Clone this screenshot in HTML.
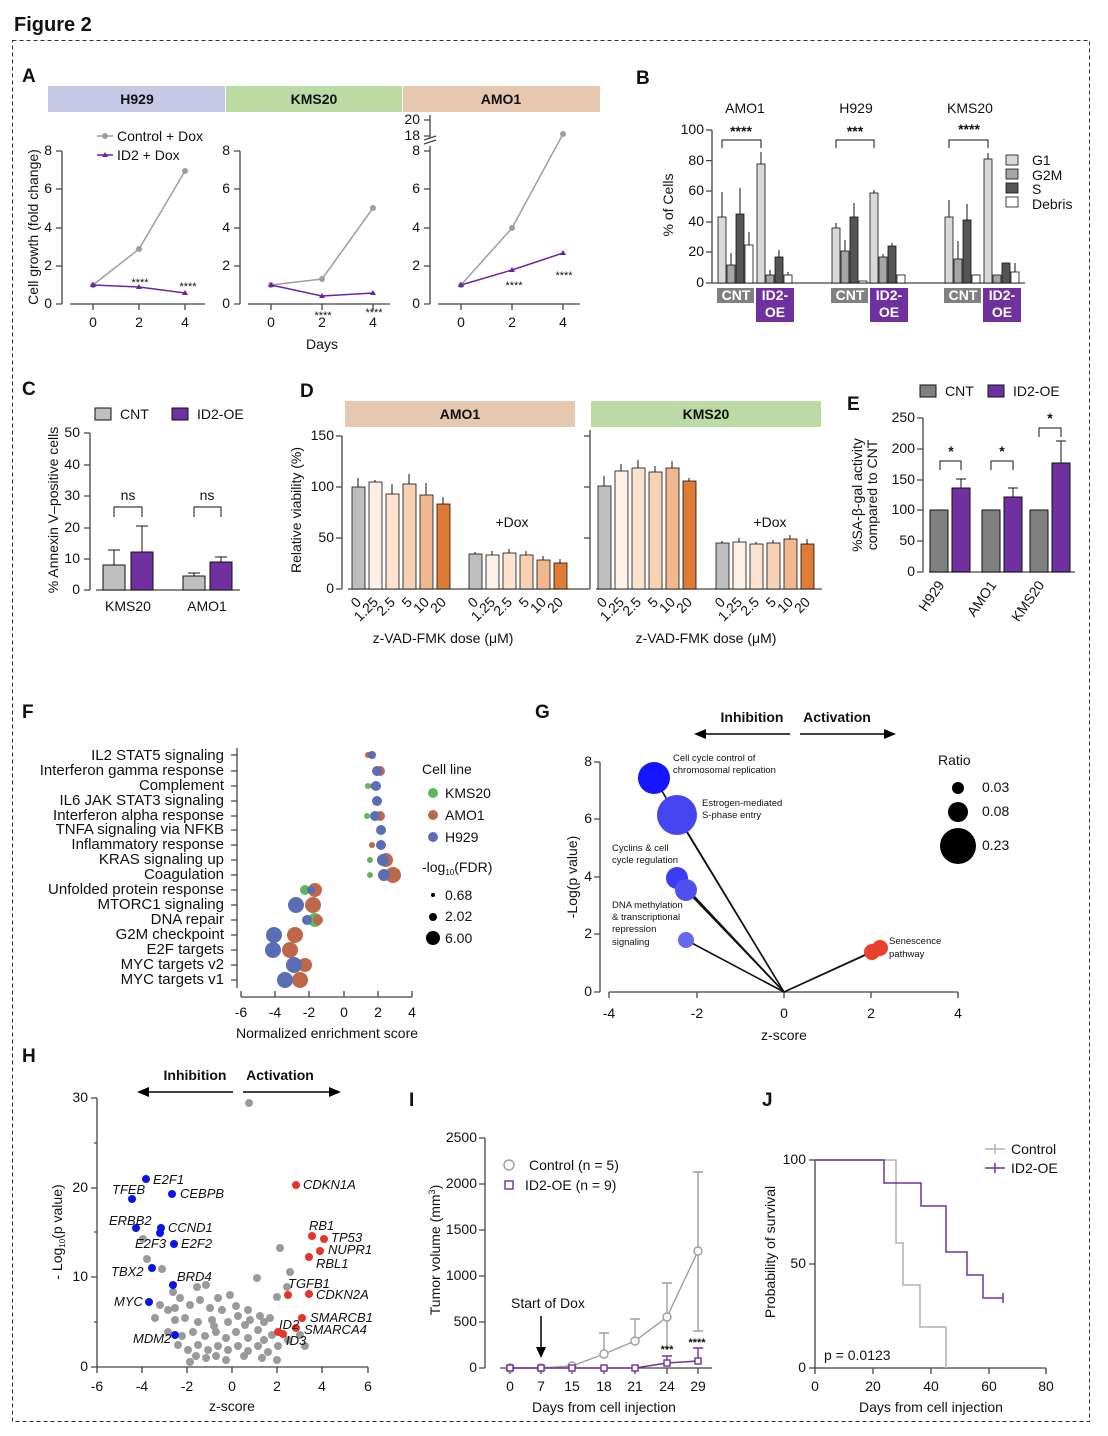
<!DOCTYPE html>
<html><head><meta charset="utf-8"><style>
html,body{margin:0;padding:0;background:#fff}
svg{display:block;font-family:"Liberation Sans",Arial,sans-serif}
text{fill:#111}
.t{font-size:14px}
.f{font-size:15px}
.s{font-size:11px}
.L{font-size:19px;font-weight:bold}
.ax{stroke:#444;stroke-width:1.3;fill:none}
.k{stroke:#111;stroke-width:1;fill:none}
.it{font-size:13px;font-style:italic}
</style></head><body>
<svg width="1108" height="1436" viewBox="0 0 1108 1436">
<text x="14" y="31" style="font-size:20px;font-weight:bold">Figure 2</text>
<rect x="12.5" y="40.5" width="1077" height="1381" fill="none" stroke="#333" stroke-dasharray="4,3"/>

<!-- A -->
<text x="22" y="82" class="L">A</text>
<rect x="48" y="86" width="177" height="26" fill="#c7c8e6"/>
<rect x="226" y="86" width="176" height="26" fill="#bcdaa3"/>
<rect x="403" y="86" width="197" height="26" fill="#e6c7af"/>
<g class="t" font-weight="bold" text-anchor="middle"><text x="137" y="104">H929</text><text x="314" y="104">KMS20</text><text x="501" y="104">AMO1</text></g>
<text transform="translate(38,227) rotate(-90)" class="t" text-anchor="middle">Cell growth (fold change)</text>
<g class="ax"><path d="M62,151V304M56,151H62M56,189H62M56,228H62M56,266H62M56,304H62"/><path d="M70,304H205M93,304v6M139,304v6M185,304v6"/>
<path d="M240,151V304M234,151H240M234,189H240M234,228H240M234,266H240M234,304H240"/><path d="M248,304H390M271,304v6M322,304v6M373,304v6"/>
<path d="M430,146V304M424,151H430M424,189H430M424,228H430M424,266H430M424,304H430"/><path d="M430,115V138M424,120H430M424,136H430"/><path d="M424,144l12,-4M424,140l12,-4"/>
<path d="M438,304H580M461,304v6M512,304v6M563,304v6"/></g>
<g class="t" text-anchor="end"><text x="52" y="155">8</text><text x="52" y="193">6</text><text x="52" y="232">4</text><text x="52" y="270">2</text><text x="52" y="308">0</text>
<text x="230" y="155">8</text><text x="230" y="193">6</text><text x="230" y="232">4</text><text x="230" y="270">2</text><text x="230" y="308">0</text>
<text x="420" y="155">8</text><text x="420" y="193">6</text><text x="420" y="232">4</text><text x="420" y="270">2</text><text x="420" y="308">0</text><text x="420" y="124">20</text><text x="420" y="140">18</text></g>
<g class="t" text-anchor="middle"><text x="93" y="327">0</text><text x="139" y="327">2</text><text x="185" y="327">4</text><text x="271" y="327">0</text><text x="322" y="327">2</text><text x="373" y="327">4</text><text x="461" y="327">0</text><text x="512" y="327">2</text><text x="563" y="327">4</text><text x="322" y="349">Days</text></g>
<g stroke="#9e9e9e" stroke-width="1.5" fill="none"><path d="M93,285L139,249L185,171"/><path d="M271,285L322,279L373,208"/><path d="M461,285L512,228L563,134"/><path d="M97,136H113"/></g>
<g fill="#9e9e9e"><circle cx="93" cy="285" r="3"/><circle cx="139" cy="249" r="3"/><circle cx="185" cy="171" r="3"/><circle cx="271" cy="285" r="3"/><circle cx="322" cy="279" r="3"/><circle cx="373" cy="208" r="3"/><circle cx="461" cy="285" r="3"/><circle cx="512" cy="228" r="3"/><circle cx="563" cy="134" r="3"/><circle cx="105" cy="136" r="3"/></g>
<g stroke="#6b22a8" stroke-width="1.5" fill="none"><path d="M93,285L139,287L185,293"/><path d="M271,285L322,296L373,293"/><path d="M461,285L512,270L563,253"/><path d="M97,155H113"/></g>
<g fill="#6b22a8"><path d="M93,282l3,5h-6z M139,284l3,5h-6z M185,290l3,5h-6z M271,282l3,5h-6z M322,293l3,5h-6z M373,290l3,5h-6z M461,282l3,5h-6z M512,267l3,5h-6z M563,250l3,5h-6z M105,152l3,5h-6z"/></g>
<text x="117" y="141" class="t">Control + Dox</text><text x="117" y="160" class="t">ID2 + Dox</text>
<g class="s" text-anchor="middle"><text x="140" y="286">****</text><text x="188" y="290">****</text><text x="323" y="319">****</text><text x="374" y="316">****</text><text x="514" y="289">****</text><text x="564" y="279">****</text></g>

<!-- B -->
<text x="636" y="84" class="L">B</text>
<g class="t" text-anchor="middle"><text x="745" y="113">AMO1</text><text x="856" y="113">H929</text><text x="970" y="113">KMS20</text></g>
<text transform="translate(673,205) rotate(-90)" class="t" text-anchor="middle">% of Cells</text>
<g class="ax"><path d="M712,130V283M706,130H712M706,160.6H712M706,191H712M706,222H712M706,252H712M706,283H712M712,283H1025"/></g>
<g class="t" text-anchor="end"><text x="704" y="134">100</text><text x="704" y="165">80</text><text x="704" y="195">60</text><text x="704" y="226">40</text><text x="704" y="256">20</text><text x="704" y="287">0</text></g>
<g stroke="#111" stroke-width="0.8">
<rect x="718" y="217" width="8" height="66" fill="#d9d9d9"/><rect x="727" y="265" width="8" height="18" fill="#a6a6a6"/><rect x="736" y="214" width="8" height="69" fill="#555"/><rect x="745" y="245" width="8" height="38" fill="#fff"/>
<rect x="757" y="164" width="8" height="119" fill="#d9d9d9"/><rect x="766" y="275" width="8" height="8" fill="#a6a6a6"/><rect x="775" y="257" width="8" height="26" fill="#555"/><rect x="784" y="275" width="8" height="8" fill="#fff"/>
<rect x="832" y="228" width="8" height="55" fill="#d9d9d9"/><rect x="841" y="251" width="8" height="32" fill="#a6a6a6"/><rect x="850" y="217" width="8" height="66" fill="#555"/><rect x="859" y="281" width="8" height="2" fill="#fff"/>
<rect x="870" y="193" width="8" height="90" fill="#d9d9d9"/><rect x="879" y="257" width="8" height="26" fill="#a6a6a6"/><rect x="888" y="246" width="8" height="37" fill="#555"/><rect x="897" y="275" width="8" height="8" fill="#fff"/>
<rect x="945" y="217" width="8" height="66" fill="#d9d9d9"/><rect x="954" y="259" width="8" height="24" fill="#a6a6a6"/><rect x="963" y="220" width="8" height="63" fill="#555"/><rect x="972" y="275" width="8" height="8" fill="#fff"/>
<rect x="984" y="159" width="8" height="124" fill="#d9d9d9"/><rect x="993" y="275" width="8" height="8" fill="#a6a6a6"/><rect x="1002" y="263" width="8" height="20" fill="#555"/><rect x="1011" y="272" width="8" height="11" fill="#fff"/>
</g>
<g class="k"><path d="M722,217V192M731,265V253M740,214V188M749,245V232M761,164V152M770,275V270M779,257V250M788,275V272M836,228V223M845,251V240M854,217V203M874,193V190M883,257V254M892,246V243M949,217V200M958,259V241M967,220V204M988,159V153M1015,272V263"/>
<path d="M722,148V140H761V148M836,148V140H874V148M949,148V140H988V148"/></g>
<g class="t" font-weight="bold" text-anchor="middle"><text x="741" y="136">****</text><text x="855" y="136">***</text><text x="969" y="134">****</text></g>
<rect x="717" y="288" width="37" height="15" fill="#808080"/><rect x="756" y="288" width="38" height="34" fill="#7030a0"/>
<rect x="831" y="288" width="37" height="15" fill="#808080"/><rect x="870" y="288" width="38" height="34" fill="#7030a0"/>
<rect x="944" y="288" width="37" height="15" fill="#808080"/><rect x="983" y="288" width="38" height="34" fill="#7030a0"/>
<g class="t" font-weight="bold" text-anchor="middle"><text x="736" y="300" style="fill:#fff">CNT</text><text x="775" y="300" style="fill:#fff">ID2-</text><text x="775" y="317" style="fill:#fff">OE</text>
<text x="850" y="300" style="fill:#fff">CNT</text><text x="889" y="300" style="fill:#fff">ID2-</text><text x="889" y="317" style="fill:#fff">OE</text>
<text x="963" y="300" style="fill:#fff">CNT</text><text x="1002" y="300" style="fill:#fff">ID2-</text><text x="1002" y="317" style="fill:#fff">OE</text></g>
<g stroke="#111" stroke-width="0.8"><rect x="1006" y="155" width="12" height="10" fill="#d9d9d9"/><rect x="1006" y="169" width="12" height="10" fill="#a6a6a6"/><rect x="1006" y="183" width="12" height="10" fill="#555"/><rect x="1006" y="197" width="12" height="10" fill="#fff"/></g>
<g class="t"><text x="1032" y="165">G1</text><text x="1032" y="180">G2M</text><text x="1032" y="194">S</text><text x="1032" y="209">Debris</text></g>

<!-- C -->
<text x="22" y="395" class="L">C</text>
<rect x="95" y="408" width="16" height="12" fill="#bfbfbf" stroke="#111"/><text x="120" y="419" class="t">CNT</text>
<rect x="172" y="408" width="16" height="12" fill="#7030a0" stroke="#111"/><text x="197" y="419" class="t">ID2-OE</text>
<text transform="translate(58,510) rotate(-90)" class="t" text-anchor="middle">% Annexin V–positive cells</text>
<g class="ax"><path d="M90,433V590M84,433H90M84,465H90M84,496H90M84,528H90M84,559H90M84,590H90M96,590H240"/></g>
<g class="t" text-anchor="end"><text x="80" y="437">50</text><text x="80" y="469">40</text><text x="80" y="500">30</text><text x="80" y="532">20</text><text x="80" y="563">10</text><text x="80" y="594">0</text></g>
<g stroke="#111"><rect x="103" y="565" width="22" height="25" fill="#bfbfbf"/><rect x="131" y="552" width="22" height="38" fill="#7030a0"/><rect x="183" y="576" width="22" height="14" fill="#bfbfbf"/><rect x="210" y="562" width="22" height="28" fill="#7030a0"/></g>
<g class="k"><path d="M114,565V550M108,550H120M142,552V526M136,526H148M194,576V573M188,573H200M221,562V557M215,557H227M114,517V507H142V517M194,517V507H221V517"/></g>
<g class="t" text-anchor="middle"><text x="128" y="500">ns</text><text x="207" y="500">ns</text><text x="128" y="611">KMS20</text><text x="207" y="611">AMO1</text></g>

<!-- D -->
<text x="300" y="397" class="L">D</text>
<rect x="345" y="401" width="230" height="26" fill="#e6c7af"/><rect x="591" y="401" width="230" height="26" fill="#bcdaa3"/>
<g class="t" font-weight="bold" text-anchor="middle"><text x="460" y="419">AMO1</text><text x="706" y="419">KMS20</text></g>
<text transform="translate(301,510) rotate(-90)" class="t" text-anchor="middle">Relative viability (%)</text>
<g class="ax"><path d="M342,436V589M336,436H342M336,487H342M336,538H342M336,589H342M348,589H585M590,430V589M584,436H590M584,487H590M584,538H590M584,589H590M596,589H822"/></g>
<g class="t" text-anchor="end"><text x="334" y="440">150</text><text x="334" y="491">100</text><text x="334" y="542">50</text><text x="334" y="593">0</text></g>
<g stroke="#111" stroke-width="0.8">
<rect x="352" y="487" width="13" height="102" fill="#bfbfbf"/><rect x="369" y="482" width="13" height="107" fill="#fdf1e7"/><rect x="386" y="494" width="13" height="95" fill="#fbe3d0"/><rect x="403" y="484" width="13" height="105" fill="#f7d2b4"/><rect x="420" y="495" width="13" height="94" fill="#f1b890"/><rect x="437" y="504" width="13" height="85" fill="#e07b35"/>
<rect x="469" y="554" width="13" height="35" fill="#bfbfbf"/><rect x="486" y="555" width="13" height="34" fill="#fdf1e7"/><rect x="503" y="553" width="13" height="36" fill="#fbe3d0"/><rect x="520" y="555" width="13" height="34" fill="#f7d2b4"/><rect x="537" y="560" width="13" height="29" fill="#f1b890"/><rect x="554" y="563" width="13" height="26" fill="#e07b35"/>
<rect x="598" y="486" width="13" height="103" fill="#bfbfbf"/><rect x="615" y="471" width="13" height="118" fill="#fdf1e7"/><rect x="632" y="468" width="13" height="121" fill="#fbe3d0"/><rect x="649" y="472" width="13" height="117" fill="#f7d2b4"/><rect x="666" y="468" width="13" height="121" fill="#f1b890"/><rect x="683" y="481" width="13" height="108" fill="#e07b35"/>
<rect x="716" y="543" width="13" height="46" fill="#bfbfbf"/><rect x="733" y="542" width="13" height="47" fill="#fdf1e7"/><rect x="750" y="544" width="13" height="45" fill="#fbe3d0"/><rect x="767" y="543" width="13" height="46" fill="#f7d2b4"/><rect x="784" y="539" width="13" height="50" fill="#f1b890"/><rect x="801" y="544" width="13" height="45" fill="#e07b35"/>
</g>
<g class="k"><path d="M358,487V478M375,482V480M392,494V484M409,484V474M426,495V483M443,504V497M475,554V552M492,555V551M509,553V549M526,555V551M543,560V556M560,563V559M604,486V476M621,471V464M638,468V460M655,472V466M672,468V461M689,481V478M722,543V541M739,542V538M756,544V542M773,543V540M790,539V535M807,544V539"/></g>
<text x="512" y="527" class="t" text-anchor="middle">+Dox</text><text x="770" y="527" class="t" text-anchor="middle">+Dox</text>
<g class="t" text-anchor="end">
<text transform="translate(362,603) rotate(-45)">0</text><text transform="translate(379,603) rotate(-45)">1.25</text><text transform="translate(396,603) rotate(-45)">2.5</text><text transform="translate(413,603) rotate(-45)">5</text><text transform="translate(430,603) rotate(-45)">10</text><text transform="translate(447,603) rotate(-45)">20</text>
<text transform="translate(479,603) rotate(-45)">0</text><text transform="translate(496,603) rotate(-45)">1.25</text><text transform="translate(513,603) rotate(-45)">2.5</text><text transform="translate(530,603) rotate(-45)">5</text><text transform="translate(547,603) rotate(-45)">10</text><text transform="translate(564,603) rotate(-45)">20</text>
<text transform="translate(608,603) rotate(-45)">0</text><text transform="translate(625,603) rotate(-45)">1.25</text><text transform="translate(642,603) rotate(-45)">2.5</text><text transform="translate(659,603) rotate(-45)">5</text><text transform="translate(676,603) rotate(-45)">10</text><text transform="translate(693,603) rotate(-45)">20</text>
<text transform="translate(726,603) rotate(-45)">0</text><text transform="translate(743,603) rotate(-45)">1.25</text><text transform="translate(760,603) rotate(-45)">2.5</text><text transform="translate(777,603) rotate(-45)">5</text><text transform="translate(794,603) rotate(-45)">10</text><text transform="translate(811,603) rotate(-45)">20</text></g>
<g class="t" text-anchor="middle"><text x="443" y="643">z-VAD-FMK dose (μM)</text><text x="706" y="643">z-VAD-FMK dose (μM)</text></g>

<!-- E -->
<text x="847" y="410" class="L">E</text>
<rect x="920" y="385" width="16" height="12" fill="#808080" stroke="#111"/><text x="945" y="396" class="t">CNT</text>
<rect x="988" y="385" width="16" height="12" fill="#7030a0" stroke="#111"/><text x="1013" y="396" class="t">ID2-OE</text>
<text transform="translate(862,495) rotate(-90)" class="t" text-anchor="middle">%SA-β-gal activity</text>
<text transform="translate(877,495) rotate(-90)" class="t" text-anchor="middle">compared to CNT</text>
<g class="ax"><path d="M923,418V572M917,418H923M917,449H923M917,480H923M917,510H923M917,541H923M917,572H923M929,572H1075"/></g>
<g class="t" text-anchor="end"><text x="915" y="422">250</text><text x="915" y="453">200</text><text x="915" y="484">150</text><text x="915" y="514">100</text><text x="915" y="545">50</text><text x="915" y="576">0</text></g>
<g stroke="#111"><rect x="930" y="510" width="18" height="62" fill="#808080"/><rect x="952" y="488" width="18" height="84" fill="#7030a0"/><rect x="982" y="510" width="18" height="62" fill="#808080"/><rect x="1004" y="497" width="18" height="75" fill="#7030a0"/><rect x="1030" y="510" width="18" height="62" fill="#808080"/><rect x="1052" y="463" width="18" height="109" fill="#7030a0"/></g>
<g class="k"><path d="M961,488V479M956,479H966M1013,497V488M1008,488H1018M1061,463V441M1056,441H1066M940,470V461H961V470M991,470V461H1013V470M1039,437V428H1061V437"/></g>
<g class="t" font-weight="bold" text-anchor="middle"><text x="951" y="456">*</text><text x="1002" y="456">*</text><text x="1050" y="423">*</text></g>
<g class="t" text-anchor="end"><text transform="translate(945,585) rotate(-55)">H929</text><text transform="translate(997,585) rotate(-55)">AMO1</text><text transform="translate(1045,585) rotate(-55)">KMS20</text></g>

<!-- F -->
<text x="22" y="718" class="L">F</text>
<g class="ax"><path d="M237,748V988"/><path d="M241,997H412M241,997v-6M275,997v-6M309,997v-6M344,997v-6M378,997v-6M412,997v-6"/>
<path d="M231,755H237M231,771H237M231,786H237M231,801H237M231,816H237M231,830H237M231,845H237M231,860H237M231,875H237M231,890H237M231,905H237M231,920H237M231,935H237M231,950H237M231,965H237M231,980H237"/></g>
<g class="f" text-anchor="end"><text x="224" y="760">IL2 STAT5 signaling</text><text x="224" y="775">Interferon gamma response</text><text x="224" y="790">Complement</text><text x="224" y="805">IL6 JAK STAT3 signaling</text><text x="224" y="820">Interferon alpha response</text><text x="224" y="834">TNFA signaling via NFKB</text><text x="224" y="849">Inflammatory response</text><text x="224" y="864">KRAS signaling up</text><text x="224" y="879">Coagulation</text><text x="224" y="894">Unfolded protein response</text><text x="224" y="909">MTORC1 signaling</text><text x="224" y="924">DNA repair</text><text x="224" y="939">G2M checkpoint</text><text x="224" y="954">E2F targets</text><text x="224" y="969">MYC targets v2</text><text x="224" y="984">MYC targets v1</text></g>
<g class="t" text-anchor="middle"><text x="241" y="1017">-6</text><text x="275" y="1017">-4</text><text x="309" y="1017">-2</text><text x="344" y="1017">0</text><text x="378" y="1017">2</text><text x="412" y="1017">4</text><text x="327" y="1038">Normalized enrichment score</text></g>
<g>
<circle cx="368" cy="755" r="3" fill="#c0674a"/><circle cx="372" cy="755" r="4" fill="#5a6db5"/>
<circle cx="380" cy="771" r="5" fill="#c0674a"/><circle cx="377" cy="771" r="5" fill="#5a6db5"/>
<circle cx="368" cy="786" r="3" fill="#5cb85c"/><circle cx="373" cy="786" r="3" fill="#c0674a"/><circle cx="376" cy="786" r="5" fill="#5a6db5"/>
<circle cx="377" cy="801" r="5" fill="#5a6db5"/>
<circle cx="367" cy="816" r="3" fill="#5cb85c"/><circle cx="380" cy="816" r="5" fill="#c0674a"/><circle cx="375" cy="816" r="5" fill="#5a6db5"/>
<circle cx="381" cy="830" r="5" fill="#5a6db5"/>
<circle cx="372" cy="845" r="3" fill="#c0674a"/><circle cx="381" cy="845" r="5" fill="#5a6db5"/>
<circle cx="370" cy="860" r="3" fill="#5cb85c"/><circle cx="386" cy="860" r="7" fill="#c0674a"/><circle cx="383" cy="860" r="6" fill="#5a6db5"/>
<circle cx="370" cy="875" r="3" fill="#5cb85c"/><circle cx="393" cy="875" r="8" fill="#c0674a"/><circle cx="384" cy="875" r="6" fill="#5a6db5"/>
<circle cx="305" cy="890" r="5" fill="#5cb85c"/><circle cx="315" cy="890" r="7" fill="#c0674a"/><circle cx="311" cy="890" r="4" fill="#5a6db5"/>
<circle cx="313" cy="905" r="8" fill="#c0674a"/><circle cx="296" cy="905" r="8" fill="#5a6db5"/>
<circle cx="315" cy="920" r="7" fill="#5cb85c"/><circle cx="318" cy="920" r="5" fill="#c0674a"/><circle cx="307" cy="920" r="5" fill="#5a6db5"/>
<circle cx="295" cy="935" r="8" fill="#c0674a"/><circle cx="274" cy="935" r="8" fill="#5a6db5"/>
<circle cx="290" cy="950" r="8" fill="#c0674a"/><circle cx="273" cy="950" r="8" fill="#5a6db5"/>
<circle cx="292" cy="965" r="5" fill="#5cb85c"/><circle cx="305" cy="965" r="7" fill="#c0674a"/><circle cx="294" cy="965" r="8" fill="#5a6db5"/>
<circle cx="300" cy="980" r="8" fill="#c0674a"/><circle cx="285" cy="980" r="8" fill="#5a6db5"/>
</g>
<text x="422" y="774" class="t">Cell line</text>
<circle cx="433" cy="793" r="5" fill="#5cb85c"/><circle cx="433" cy="815" r="5" fill="#c0674a"/><circle cx="433" cy="837" r="5" fill="#5a6db5"/>
<g class="t"><text x="445" y="798">KMS20</text><text x="445" y="820">AMO1</text><text x="445" y="842">H929</text><text x="422" y="872">-log<tspan font-size="8" dy="3">10</tspan><tspan dy="-3">(FDR)</tspan></text><text x="445" y="900">0.68</text><text x="445" y="921">2.02</text><text x="445" y="943">6.00</text></g>
<circle cx="433" cy="895" r="2" fill="#000"/><circle cx="433" cy="917" r="4" fill="#000"/><circle cx="433" cy="938" r="7" fill="#000"/>

<!-- G -->
<text x="535" y="718" class="L">G</text>
<g class="t" font-weight="bold" text-anchor="middle"><text x="752" y="722">Inhibition</text><text x="837" y="722">Activation</text></g>
<g stroke="#000" stroke-width="1.5"><path d="M790,734H705M800,734H885"/></g><path d="M694,734l12,-5v10z M896,734l-12,-5v10z" fill="#000"/>
<g class="ax"><path d="M600,762V992M594,762H600M594,819H600M594,877H600M594,934H600M594,992H600"/><path d="M609,992H958M609,992v6M697,992v6M784,992v6M871,992v6M958,992v6"/></g>
<g class="t" text-anchor="end"><text x="592" y="766">8</text><text x="592" y="823">6</text><text x="592" y="881">4</text><text x="592" y="938">2</text><text x="592" y="996">0</text></g>
<g class="t" text-anchor="middle"><text x="609" y="1018">-4</text><text x="697" y="1018">-2</text><text x="784" y="1018">0</text><text x="871" y="1018">2</text><text x="958" y="1018">4</text><text x="784" y="1040">z-score</text></g>
<text transform="translate(577,877) rotate(-90)" class="t" text-anchor="middle">-Log(p value)</text>
<g stroke="#111" stroke-width="1.6"><path d="M654,778L784,992M677,815L784,992M677,878L784,992M686,890L784,992M686,940L784,992M872,952L784,992M880,948L784,992"/></g>
<circle cx="654" cy="778" r="16" fill="#1515ff"/><circle cx="677" cy="815" r="20" fill="#4545f2"/><circle cx="677" cy="878" r="11" fill="#3c3cf5"/><circle cx="686" cy="890" r="11" fill="#5050ee"/><circle cx="686" cy="940" r="8" fill="#6868ee"/>
<circle cx="872" cy="952" r="8" fill="#e8412c"/><circle cx="880" cy="948" r="8" fill="#e8412c"/>
<g style="font-size:9.5px"><text x="673" y="761">Cell cycle control of</text><text x="673" y="773">chromosomal replication</text><text x="702" y="806">Estrogen-mediated</text><text x="702" y="818">S-phase entry</text><text x="612" y="851">Cyclins &amp; cell</text><text x="612" y="863">cycle regulation</text><text x="612" y="908">DNA methylation</text><text x="612" y="920">&amp; transcriptional</text><text x="612" y="932">repression</text><text x="612" y="945">signaling</text><text x="889" y="944">Senescence</text><text x="889" y="957">pathway</text></g>
<text x="938" y="765" class="t">Ratio</text>
<circle cx="958" cy="788" r="6" fill="#000"/><circle cx="958" cy="812" r="10" fill="#000"/><circle cx="958" cy="846" r="18" fill="#000"/>
<g class="t"><text x="982" y="792">0.03</text><text x="982" y="816">0.08</text><text x="982" y="850">0.23</text></g>

<!-- H -->
<text x="22" y="1062" class="L">H</text>
<g class="t" font-weight="bold" text-anchor="middle"><text x="195" y="1080">Inhibition</text><text x="280" y="1080">Activation</text></g>
<g stroke="#000" stroke-width="1.5"><path d="M233,1092H148M243,1092H330"/></g><path d="M137,1092l12,-5v10z M341,1092l-12,-5v10z" fill="#000"/>
<g class="ax"><path d="M97,1098V1367M91,1098H97M91,1188H97M91,1277H97M91,1367H97M94,1143H97M94,1232H97M94,1322H97"/><path d="M97,1367H368M97,1367v6M142,1367v6M187,1367v6M232,1367v6M277,1367v6M322,1367v6M368,1367v6"/></g>
<g class="t" text-anchor="end"><text x="88" y="1102">30</text><text x="88" y="1192">20</text><text x="88" y="1281">10</text><text x="88" y="1371">0</text></g>
<g class="t" text-anchor="middle"><text x="97" y="1391">-6</text><text x="142" y="1391">-4</text><text x="187" y="1391">-2</text><text x="232" y="1391">0</text><text x="277" y="1391">2</text><text x="322" y="1391">4</text><text x="368" y="1391">6</text><text x="232" y="1411">z-score</text></g>
<text transform="translate(62,1232) rotate(-90)" class="t" text-anchor="middle">- Log<tspan font-size="8" dy="3">10</tspan><tspan dy="-3">(p value)</tspan></text>
<g fill="#9a9a9a">
<circle cx="249" cy="1103" r="4"/><circle cx="280" cy="1248" r="4"/><circle cx="257" cy="1278" r="4"/><circle cx="290" cy="1272" r="4"/><circle cx="147" cy="1259" r="4"/><circle cx="162" cy="1269" r="4"/><circle cx="143" cy="1239" r="4"/><circle cx="287" cy="1287" r="4"/><circle cx="277" cy="1297" r="4"/><circle cx="173" cy="1292" r="4"/><circle cx="206" cy="1285" r="4"/><circle cx="197" cy="1287" r="4"/>
<circle cx="160" cy="1305" r="4"/><circle cx="168" cy="1310" r="4"/><circle cx="175" cy="1308" r="4"/><circle cx="155" cy="1318" r="4"/><circle cx="175" cy="1320" r="4"/><circle cx="190" cy="1305" r="4"/><circle cx="200" cy="1300" r="4"/><circle cx="210" cy="1308" r="4"/><circle cx="222" cy="1310" r="4"/><circle cx="236" cy="1306" r="4"/><circle cx="248" cy="1310" r="4"/><circle cx="260" cy="1316" r="4"/><circle cx="270" cy="1318" r="4"/><circle cx="185" cy="1318" r="4"/><circle cx="198" cy="1322" r="4"/><circle cx="212" cy="1320" r="4"/><circle cx="228" cy="1322" r="4"/><circle cx="245" cy="1325" r="4"/><circle cx="258" cy="1330" r="4"/><circle cx="168" cy="1332" r="4"/><circle cx="182" cy="1336" r="4"/><circle cx="193" cy="1332" r="4"/><circle cx="205" cy="1336" r="4"/><circle cx="216" cy="1332" r="4"/><circle cx="226" cy="1338" r="4"/><circle cx="236" cy="1332" r="4"/><circle cx="248" cy="1338" r="4"/><circle cx="264" cy="1340" r="4"/><circle cx="272" cy="1335" r="4"/><circle cx="178" cy="1345" r="4"/><circle cx="188" cy="1350" r="4"/><circle cx="198" cy="1345" r="4"/><circle cx="208" cy="1350" r="4"/><circle cx="218" cy="1346" r="4"/><circle cx="228" cy="1350" r="4"/><circle cx="238" cy="1346" r="4"/><circle cx="248" cy="1351" r="4"/><circle cx="258" cy="1346" r="4"/><circle cx="268" cy="1352" r="4"/><circle cx="278" cy="1346" r="4"/><circle cx="288" cy="1340" r="4"/><circle cx="196" cy="1356" r="4"/><circle cx="206" cy="1358" r="4"/><circle cx="216" cy="1356" r="4"/><circle cx="226" cy="1360" r="4"/><circle cx="244" cy="1356" r="4"/><circle cx="262" cy="1358" r="4"/><circle cx="277" cy="1360" r="4"/><circle cx="190" cy="1362" r="4"/><circle cx="300" cy="1335" r="4"/><circle cx="305" cy="1346" r="4"/><circle cx="238" cy="1316" r="4"/><circle cx="218" cy="1298" r="4"/><circle cx="230" cy="1295" r="4"/><circle cx="180" cy="1298" r="4"/><circle cx="250" cy="1320" r="4"/><circle cx="264" cy="1322" r="4"/><circle cx="214" cy="1326" r="4"/>
</g>
<g fill="#0b14e6"><circle cx="146" cy="1179" r="4"/><circle cx="132" cy="1199" r="4"/><circle cx="172" cy="1194" r="4"/><circle cx="136" cy="1228" r="4"/><circle cx="161" cy="1228" r="4"/><circle cx="160" cy="1233" r="4"/><circle cx="174" cy="1244" r="4"/><circle cx="152" cy="1268" r="4"/><circle cx="173" cy="1285" r="4"/><circle cx="149" cy="1302" r="4"/><circle cx="175" cy="1335" r="4"/></g>
<g fill="#e8322a"><circle cx="296" cy="1185" r="4"/><circle cx="312" cy="1236" r="4"/><circle cx="324" cy="1239" r="4"/><circle cx="320" cy="1251" r="4"/><circle cx="309" cy="1257" r="4"/><circle cx="288" cy="1295" r="4"/><circle cx="309" cy="1294" r="4"/><circle cx="302" cy="1318" r="4"/><circle cx="296" cy="1328" r="4"/><circle cx="278" cy="1332" r="4"/><circle cx="283" cy="1334" r="4"/></g>
<g class="it"><text x="153" y="1184">E2F1</text><text x="112" y="1194">TFEB</text><text x="180" y="1198">CEBPB</text><text x="109" y="1225">ERBB2</text><text x="168" y="1232">CCND1</text><text x="135" y="1248">E2F3</text><text x="181" y="1248">E2F2</text><text x="111" y="1276">TBX2</text><text x="177" y="1281">BRD4</text><text x="114" y="1306">MYC</text><text x="133" y="1343">MDM2</text>
<text x="303" y="1189">CDKN1A</text><text x="309" y="1230">RB1</text><text x="331" y="1242">TP53</text><text x="328" y="1254">NUPR1</text><text x="316" y="1268">RBL1</text><text x="288" y="1288">TGFB1</text><text x="316" y="1299">CDKN2A</text><text x="310" y="1322">SMARCB1</text><text x="304" y="1334">SMARCA4</text><text x="279" y="1329">ID2</text><text x="286" y="1345">ID3</text></g>

<!-- I -->
<text x="409" y="1106" class="L">I</text>
<g class="ax"><path d="M485,1138V1368M479,1138H485M479,1184H485M479,1230H485M479,1276H485M479,1322H485M479,1368H485"/><path d="M500,1368H712M510,1368v6M541,1368v6M572,1368v6M604,1368v6M635,1368v6M667,1368v6M698,1368v6"/></g>
<g class="t" text-anchor="end"><text x="477" y="1142">2500</text><text x="477" y="1188">2000</text><text x="477" y="1234">1500</text><text x="477" y="1280">1000</text><text x="477" y="1326">500</text><text x="477" y="1372">0</text></g>
<g class="t" text-anchor="middle"><text x="510" y="1391">0</text><text x="541" y="1391">7</text><text x="572" y="1391">15</text><text x="604" y="1391">18</text><text x="635" y="1391">21</text><text x="667" y="1391">24</text><text x="698" y="1391">29</text><text x="604" y="1412">Days from cell injection</text></g>
<text transform="translate(440,1250) rotate(-90)" class="t" text-anchor="middle">Tumor volume  (mm<tspan font-size="9" dy="-5">3</tspan><tspan dy="5">)</tspan></text>
<g stroke="#9e9e9e" stroke-width="1.4" fill="none"><path d="M510,1368L541,1368L572,1366L604,1354L635,1341L667,1317L698,1251"/><path d="M604,1354V1333M599,1333H609M635,1341V1319M630,1319H640M667,1317V1283M662,1283H672M698,1251V1172M693,1172H703M698,1251V1331M693,1331H703M667,1317V1350"/>
<circle cx="510" cy="1368" r="4" fill="#fff"/><circle cx="541" cy="1368" r="4" fill="#fff"/><circle cx="572" cy="1366" r="4" fill="#fff"/><circle cx="604" cy="1354" r="4" fill="#fff"/><circle cx="635" cy="1341" r="4" fill="#fff"/><circle cx="667" cy="1317" r="4" fill="#fff"/><circle cx="698" cy="1251" r="4" fill="#fff"/><circle cx="509" cy="1165" r="5" fill="#fff"/></g>
<g stroke="#7030a0" stroke-width="1.4" fill="none"><path d="M510,1368L635,1368L667,1363L698,1361M667,1363V1356M698,1361V1348M662,1356H672M693,1348H703"/>
<rect x="507" y="1365" width="6" height="6" fill="#fff"/><rect x="538" y="1365" width="6" height="6" fill="#fff"/><rect x="569" y="1365" width="6" height="6" fill="#fff"/><rect x="601" y="1365" width="6" height="6" fill="#fff"/><rect x="632" y="1365" width="6" height="6" fill="#fff"/><rect x="664" y="1360" width="6" height="6" fill="#fff"/><rect x="695" y="1358" width="6" height="6" fill="#fff"/><rect x="505" y="1181" width="8" height="8" fill="#fff"/></g>
<g class="t"><text x="529" y="1170">Control (n = 5)</text><text x="525" y="1190">ID2-OE (n = 9)</text><text x="511" y="1308">Start of Dox</text></g>
<path d="M541,1316V1348" stroke="#000" stroke-width="1.5"/><path d="M541,1358l-5,-11h10z" fill="#000"/>
<g class="s" font-weight="bold" text-anchor="middle"><text x="667" y="1353">***</text><text x="697" y="1346">****</text></g>

<!-- J -->
<text x="762" y="1106" class="L">J</text>
<g class="ax"><path d="M815,1160V1368M809,1160H815M809,1264H815M809,1368H815"/><path d="M815,1368H1046M815,1368v6M873,1368v6M931,1368v6M989,1368v6M1046,1368v6"/></g>
<g class="t" text-anchor="end"><text x="806" y="1164">100</text><text x="806" y="1268">50</text><text x="806" y="1372">0</text></g>
<g class="t" text-anchor="middle"><text x="815" y="1391">0</text><text x="873" y="1391">20</text><text x="931" y="1391">40</text><text x="989" y="1391">60</text><text x="1046" y="1391">80</text><text x="931" y="1412">Days from cell injection</text></g>
<text transform="translate(775,1252) rotate(-90)" class="t" text-anchor="middle">Probability of survival</text>
<path d="M815,1160H896V1243H903V1285H920V1327H946V1368" stroke="#b0b0b0" stroke-width="1.5" fill="none"/>
<path d="M815,1160H884V1183H921V1206H946V1252H967V1275H983V1298H1003M1003,1293V1303" stroke="#7030a0" stroke-width="1.5" fill="none"/>
<path d="M985,1149H1005M995,1144V1154" stroke="#b0b0b0" stroke-width="1.5"/><path d="M985,1168H1005M995,1163V1173" stroke="#7030a0" stroke-width="1.5"/>
<g class="t"><text x="1011" y="1154">Control</text><text x="1011" y="1173">ID2-OE</text><text x="824" y="1360">p = 0.0123</text></g>
</svg>
</body></html>
